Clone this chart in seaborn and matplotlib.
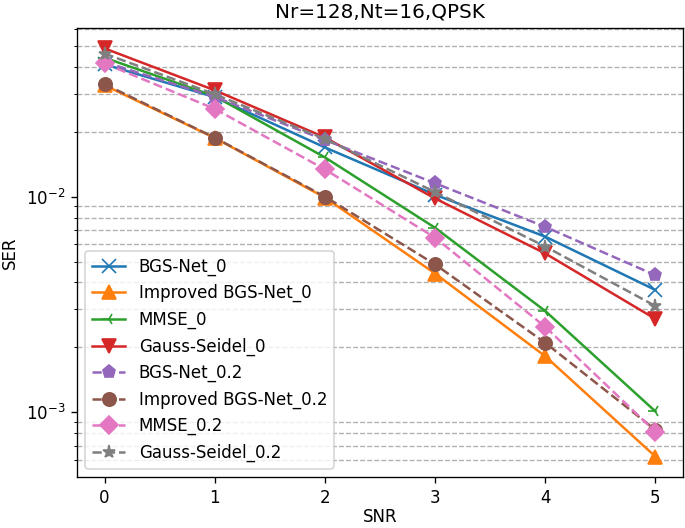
import matplotlib
matplotlib.use("Agg")
import matplotlib.pyplot as plt
import seaborn as sns
import numpy as np

snr = [0, 1, 2, 3, 4, 5]

bgs_net_0 = [0.0410, 0.0289, 0.0169, 0.0102, 0.00652, 0.00369]
improved_bgs_net_0 = [0.0328, 0.0187, 0.0099, 0.0044, 0.00182, 0.000624]
mmse_0 = [0.0440, 0.0292, 0.0152, 0.00717, 0.00295, 0.00101]
gauss_seidel_0 = [0.0486, 0.0311, 0.0188, 0.0098, 0.00545, 0.00271]
bgs_net_02 = [0.0420, 0.0290, 0.0183, 0.01153, 0.00724, 0.00432]
improved_bgs_net_02 = [0.0332, 0.01875, 0.0100, 0.00485, 0.0021, 0.00083]
mmse_02 = [0.0414, 0.0255, 0.01337, 0.00645, 0.00249, 0.000813]
gauss_seidel_02 = [0.0460, 0.0298, 0.0185, 0.0105, 0.00587, 0.00311]

labels = ["BGS-Net_0", "Improved BGS-Net_0", "MMSE_0", "Gauss-Seidel_0",
          "BGS-Net_0.2", "Improved BGS-Net_0.2", "MMSE_0.2", "Gauss-Seidel_0.2"]
series = [bgs_net_0, improved_bgs_net_0, mmse_0, gauss_seidel_0,
          bgs_net_02, improved_bgs_net_02, mmse_02, gauss_seidel_02]
markers = ["x", "^", "3", "v", "p", "o", "D", "*"]
styles = ["-", "-", "-", "-", "--", "--", "--", "--"]
colors = sns.color_palette("tab10", 8)

fig, ax = plt.subplots(figsize=(685 / 120, 528 / 120), dpi=120)

for lab, vals, mk, ls, col in zip(labels, series, markers, styles, colors):
    sns.lineplot(x=snr, y=vals, ax=ax, label=lab, marker=mk, linestyle=ls,
                 color=col, markersize=8, markeredgecolor=col,
                 markeredgewidth=1.0, linewidth=1.5)

ax.set_yscale("log")
ax.grid(which="minor", axis="y", linestyle="--", color="#b0b0b0", linewidth=0.8)
ax.grid(which="major", visible=False)
ax.set_xlabel("SNR", labelpad=1)
ax.set_ylabel("SER")
ax.set_title("Nr=128,Nt=16,QPSK")
ax.legend(loc="lower left")

fig.subplots_adjust(left=77 / 685, right=683 / 685, top=1 - 28 / 528, bottom=1 - 477 / 528)
fig.savefig("out.png", dpi=120)
